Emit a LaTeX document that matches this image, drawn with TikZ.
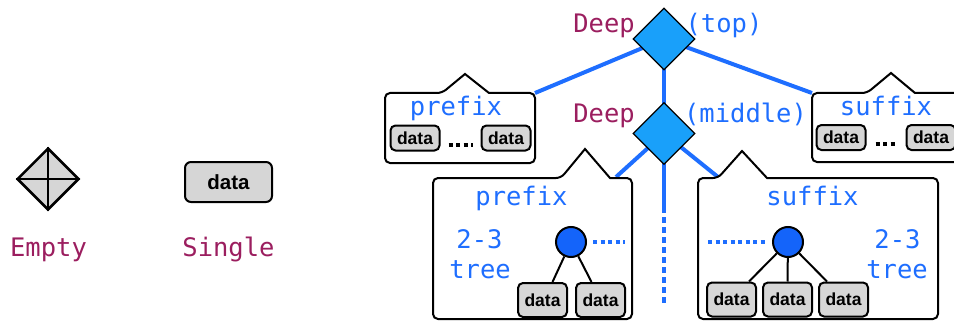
\documentclass[tikz,border=0pt]{standalone}
\usepackage{fontspec}
\setmainfont{Liberation Sans}
\newfontfamily\monofont{DejaVu Sans Mono}
\usetikzlibrary{shapes.geometric,calc,backgrounds}
\definecolor{deepred}{RGB}{155,30,95}
\definecolor{linkblue}{RGB}{30,110,255}
\definecolor{diamondblue}{RGB}{25,160,250}
\definecolor{nodeblue}{RGB}{20,100,250}
\definecolor{cellgray}{RGB}{214,214,214}

\begin{document}
\begin{tikzpicture}[x=1pt,y=-1pt,
  monotext/.style={font=\monofont\fontsize{25.5}{30}\selectfont, inner sep=0, anchor=base},
  kindtext/.style={monotext, text=deepred},
  nametext/.style={monotext, text=linkblue},
  cell/.style={draw, line width=2, rounded corners=5, fill=cellgray, inner sep=0,
    minimum width=49, minimum height=25, font=\bfseries\fontsize{17.5}{19}\selectfont},
  tallcell/.style={cell, minimum height=34},
  bigcell/.style={cell, minimum width=87, minimum height=40, rounded corners=6,
    font=\bfseries\fontsize{20.5}{23}\selectfont},
  deepnode/.style={diamond, draw, line width=1.3, fill=diamondblue, inner sep=0,
    minimum width=62, minimum height=62},
  emptynode/.style={diamond, draw, line width=2.5, fill=cellgray, inner sep=0,
    minimum width=62, minimum height=62},
  treenode/.style={circle, draw, line width=2, fill=nodeblue, inner sep=0, minimum size=30},
  spine/.style={linkblue, line width=4},
  dotrow/.style={line width=4, dash pattern=on 4 off 3.5},
  edge/.style={line width=2},
  digitbox/.style={draw, line width=2, fill=white, rounded corners=5}
]
\useasboundingbox (0,0) rectangle (954,321);

% ---- legend: the two leaf kinds ----
\node[emptynode] (empty) at (48,179) {};
\draw[line width=2.5] (empty.north) -- (empty.south) (empty.west) -- (empty.east);
\node[kindtext] (emptylbl) at (48.5,256.5) {Empty};

\node[bigcell] (single) at (228.5,182) {data};
\node[kindtext] (singlelbl) at (228.5,256.5) {Single};

% ---- spine of Deep nodes ----
\node[deepnode] (top) at (664,39) {};
\node[deepnode] (mid) at (664,133.5) {};
\node[kindtext] (toplbl) at (604,33) {Deep};
\node[nametext] (toptag) at (724,33) {(top)};
\node[kindtext] (midlbl) at (604,123) {Deep};
\node[nametext] (midtag) at (745.5,123) {(middle)};

% attachment points on the digit boxes
\coordinate (pfxA) at (535,93);
\coordinate (sfxA) at (812,93);
\coordinate (pfxB) at (616,177);
\coordinate (sfxB) at (718,177);
\coordinate (spineturn) at (664,207);
\coordinate (spineend) at (664,303);

\begin{scope}[on background layer]
\draw[spine] (top.center) -- (pfxA);
\draw[spine] (top.center) -- (sfxA);
\draw[spine] (top.center) -- (mid.center);
\draw[spine] (mid.center) -- (pfxB);
\draw[spine] (mid.center) -- (sfxB);
\draw[spine] (mid.center) -- (spineturn);
\draw[spine, dash pattern=on 6 off 4] (spineturn) -- (spineend);
\end{scope}

% ---- top-level digits ----
\draw[digitbox] (385,163) -- (385,93) -- (442,93) [sharp corners]-- (465,74) -- (489,93) [rounded corners=5]-- (535,93) -- (535,163) -- cycle;
\node[nametext] (pfx1name) at (456,115) {prefix};
\node[cell] (pfx1a) at (415,138) {data};
\node[cell] (pfx1b) at (506,138) {data};
\draw[dotrow] ($(pfx1a.east)+(8,7)$) coordinate (pd1) -- ($(pfx1b.west)+(-8,7)$) coordinate (pd2);

\draw[digitbox] (812,162) -- (812,93) -- (867,93) [sharp corners]-- (891,73) -- (915,93) [rounded corners=5]-- (962,93) -- (962,162) -- cycle;
\node[nametext] (sfx1name) at (886,115) {suffix};
\node[cell] (sfx1a) at (841,137.5) {data};
\node[cell] (sfx1b) at (931,137.5) {data};
\draw[dotrow] ($(sfx1a.east)+(9,6)$) coordinate (sd1) -- ($(sfx1b.west)+(-9,6)$) coordinate (sd2);

% ---- middle-level digits holding 2-3 trees ----
\draw[digitbox] (433,319) -- (433,178) -- (561,178) [sharp corners]-- (585,149) -- (610,178) [rounded corners=5]-- (632,178) -- (632,319) -- cycle;
\node[nametext] (pfx2name) at (521.5,205) {prefix};
\node[nametext] (pfx2t1) at (479.5,248) {2-3};
\node[nametext] (pfx2t2) at (480,278) {tree};
\node[treenode] (pfxroot) at (571,242) {};
\node[tallcell] (pfx2a) at (542.5,300) {data};
\node[tallcell] (pfx2b) at (600.5,300) {data};
\draw[edge] (pfxroot) -- ($(pfx2a.north)+(10,0)$);
\draw[edge] (pfxroot) -- ($(pfx2b.north)+(-9,0)$);
\coordinate (pfxdotend) at (625,242);
\draw[dotrow, linkblue] ($(pfxroot.east)+(6,0)$) -- (pfxdotend);

\draw[digitbox] (698,319) -- (698,178) -- (718,178) [sharp corners]-- (742,151) -- (767,178) [rounded corners=5]-- (938,178) -- (938,319) -- cycle;
\node[nametext] (sfx2name) at (812.5,205) {suffix};
\node[nametext] (sfx2t1) at (897.5,248) {2-3};
\node[nametext] (sfx2t2) at (897,278) {tree};
\node[treenode] (sfxroot) at (788,242) {};
\node[tallcell] (sfx2a) at (731.5,299.5) {data};
\node[tallcell] (sfx2b) at (787.5,299.5) {data};
\node[tallcell] (sfx2c) at (843.5,299.5) {data};
\draw[edge] (sfxroot) -- ($(sfx2a.north)+(17.5,0)$);
\draw[edge] (sfxroot) -- (sfx2b.north);
\draw[edge] (sfxroot) -- ($(sfx2c.north)+(-16.5,0)$);
\coordinate (sfxdotstart) at (708,242);
\draw[dotrow, linkblue] (sfxdotstart) -- ($(sfxroot.west)+(-6,0)$);
\end{tikzpicture}
\end{document}
